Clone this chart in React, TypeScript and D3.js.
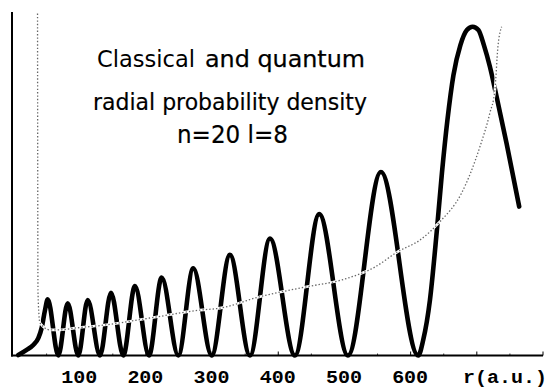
import React from 'react';
import * as d3 from 'd3';

// quantum radial density r^2 |R|^2 (r in a.u., arbitrary height units)
const quantumR = [7.3, 19.9, 29.9, 37.5, 42.6, 47.6, 51.7, 67.7, 81.9, 97.9, 112.1, 130.7, 147.3, 165.9,
  183.5, 204.7, 223.9, 249, 271.6, 299.4, 327, 357.3, 387.5, 425.2, 461.9, 505.3, 555.1, 611.5,
  619, 629.2, 639.3, 647.3, 655.6, 664.7, 675.2, 685, 693.7, 702.4, 710.7, 719.8, 729.9, 745, 764];
const quantumP = [0.0015, 0.017, 0.032, 0.053, 0.084, 0.138, 0.171, 0, 0.159, 0, 0.169, 0, 0.191, 0,
  0.211, 0, 0.237, 0, 0.265, 0, 0.306, 0, 0.356, 0, 0.43, 0, 0.558, 0,
  0.047, 0.169, 0.373, 0.555, 0.716, 0.853, 0.944, 0.99, 1.0, 0.99, 0.944, 0.878, 0.787, 0.645, 0.453];

// classical density, diverging at the turning points
const classicalR = [36.3, 37.0, 38.5, 40.0, 55.1, 70.2, 95.5, 130.7, 206.2, 281.7, 311.9, 372.4, 442.9,
  496.2, 546, 580.8, 614, 644.3, 677, 704.7, 719.8, 727.3, 731.9, 737.5];
const classicalP = [1.04, 0.199, 0.123, 0.099, 0.078, 0.078, 0.084, 0.091, 0.114, 0.138, 0.144, 0.179, 0.209,
  0.23, 0.269, 0.316, 0.351, 0.407, 0.494, 0.635, 0.738, 0.807, 0.939, 1.0];

const xTickLabels = [100, 200, 300, 400, 500, 600];
const xTicks = [100, 200, 300, 400, 500, 600, 700, 800];

const App = () => {
  const x = d3.scaleLinear().domain([0, 800]).range([13.5, 543]);
  const y = d3.scaleLinear().domain([0, 1]).range([355.5, 26.7]);

  const quantum = quantumR.map((r, i) => [r, quantumP[i]] as [number, number]);
  const classical = classicalR.map((r, i) => [r, classicalP[i]] as [number, number]);

  const line = d3.line<[number, number]>()
    .x(d => x(d[0]))
    .y(d => y(d[1]))
    .curve(d3.curveMonotoneX);

  const axisY = y(0);

  return (
    <svg width={550} height={389} style={{ position: 'absolute', left: 0, top: 0, background: '#fff' }}>
      <defs>
        <clipPath id="plot">
          <rect x={12} y={12} width={535} height={346} />
        </clipPath>
      </defs>

      {/* title */}
      <g fontFamily="DejaVu Sans, sans-serif" fill="#000">
        <text x={97} y={67} fontSize={23} textLength={98} lengthAdjust="spacingAndGlyphs">Classical</text>
        <text x={205} y={67} fontSize={23} textLength={160} lengthAdjust="spacingAndGlyphs" stroke="#000" strokeWidth={0.25}>and quantum</text>
        <text x={93} y={110} fontSize={23} textLength={274} lengthAdjust="spacingAndGlyphs" stroke="#000" strokeWidth={0.2}>radial probability density</text>
        <text x={177} y={143} fontSize={24} textLength={111} lengthAdjust="spacingAndGlyphs" stroke="#000" strokeWidth={0.2}>n=20 l=8</text>
      </g>

      <g clipPath="url(#plot)">
        <path d={line(quantum) ?? ''} fill="none" stroke="#000" strokeWidth={4.6} strokeLinecap="round" strokeLinejoin="round" />
        <path d={line(classical) ?? ''} fill="none" stroke="#fff" strokeWidth={2.6} />
        <path d={line(classical) ?? ''} fill="none" stroke="#666" strokeWidth={1.3} strokeDasharray="1.4 2" />
      </g>

      {/* axes */}
      <line x1={12} x2={12} y1={12} y2={axisY + 1} stroke="#000" strokeWidth={2} />
      <line x1={11} x2={x(800)} y1={axisY} y2={axisY} stroke="#000" strokeWidth={2} />
      {xTicks.map(t => (
        <line key={t} x1={x(t)} x2={x(t)} y1={axisY} y2={axisY - 4} stroke="#000" strokeWidth={1} />
      ))}
      {d3.range(50, 800, 100).map(t => (
        <line key={'m' + t} x1={x(t)} x2={x(t)} y1={axisY} y2={axisY - 2} stroke="#000" strokeWidth={0.8} />
      ))}
      <g fontFamily="Liberation Mono, DejaVu Sans Mono, monospace" fontWeight="bold" fontSize={18} fill="#000" textAnchor="middle">
        {xTickLabels.map(t => (
          <text key={t} x={x(t) - 0.5} y={383} textLength={36} lengthAdjust="spacingAndGlyphs">{t}</text>
        ))}
        <text x={505} y={383} textLength={84} lengthAdjust="spacingAndGlyphs">r(a.u.)</text>
      </g>
    </svg>
  );
};

export default App;
